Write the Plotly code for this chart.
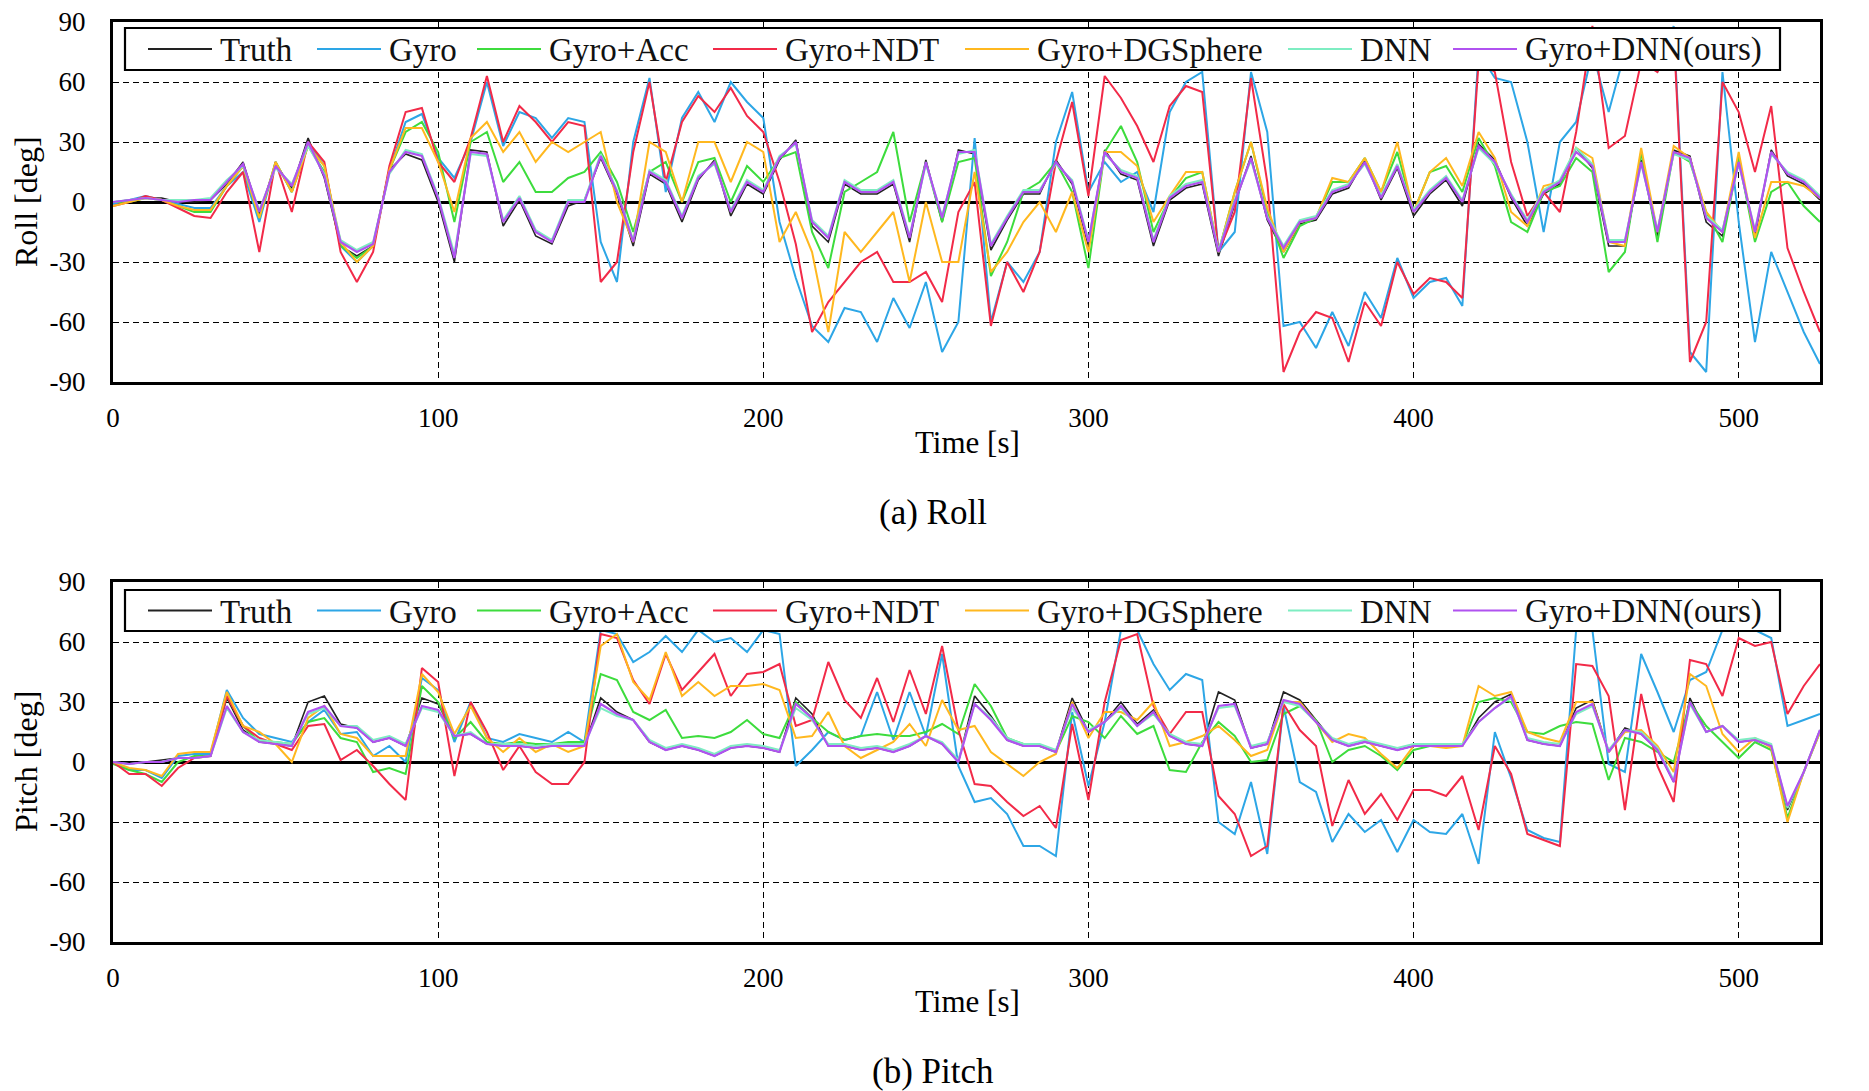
import plotly.graph_objects as go

# ---------------- data ----------------
TIME = list(range(0, 530, 5))  # seconds, 0..525

NAMES = ["Truth", "Gyro", "Gyro+Acc", "Gyro+NDT", "Gyro+DGSphere", "DNN", "Gyro+DNN(ours)"]

ROLL_TRUTH = [0,1,2,2,0,0,1,9,20,-6, 19,7,32,12,-22,-27,-22,16,24,21, 0,-30,26,25,-12,1,-17,-21,-2,1,
              22,4,-22,14,9,-10,11,21,-7,9, 4,21,31,-12,-20,9,4,4,9,-20, 21,-10,26,24,-24,-9,4,4,21,9,
              -22,26,14,11,-22,1,7,9,-27,-1, 23,-9,-25,-11,-9,4,7,21,1,17, -7,4,11,-2,29,21,2,-12,4,9,
              27,17,-22,-22,21,-17,26,23,-10,-17, 21,-17,26,13,9,1]
ROLL_GYRO = [-1,1,3,1,-1,-3,-3,8,15,-10, 20,5,30,18,-22,-30,-22,16,40,44, 22,12,30,60,28,45,42,32,42,40,
             -20,-40,30,62,5,42,55,40,60,50, 42,-10,-38,-62,-70,-53,-55,-70,-48,-63, -40,-75,-60,32,-60,-30,-40,-25,30,55,
             5,20,10,15,-5,45,60,65,-25,-15, 65,35,-62,-60,-73,-55,-72,-45,-58,-28, -48,-40,-38,-52,75,62,60,30,-15,30,
             40,75,45,75,85,65,88,-75,-85,65, -10,-70,-25,-45,-65,-81]
ROLL_ACC = [0,0,2,1,-2,-5,-5,8,18,-8, 20,5,28,15,-22,-28,-22,16,35,40, 25,-10,30,35,10,20,5,5,12,15,
            25,10,-15,15,20,0,20,22,0,18, 10,22,25,-15,-33,5,10,15,35,-10, 20,-10,20,22,-37,-20,5,10,20,5,
            -33,25,38,20,-15,2,12,15,-25,5, 30,-5,-28,-12,-8,10,10,22,5,25, -5,15,18,5,32,18,-10,-15,5,8,
            22,15,-35,-25,25,-20,25,20,-5,-20, 22,-20,5,10,-2,-10]
ROLL_NDT = [-2,0,3,1,-3,-7,-8,5,15,-25, 20,-5,30,20,-25,-40,-25,18,45,47, 20,10,32,63,30,48,40,30,40,38,
            -40,-30,25,60,10,40,53,45,57,43, 35,10,-21,-65,-50,-40,-30,-25,-40,-40, -35,-50,-5,10,-62,-30,-45,-25,20,50,
            3,63,52,38,20,48,58,55,-25,-5, 62,10,-85,-65,-55,-58,-80,-50,-62,-30, -46,-38,-40,-48,70,65,20,-7,5,-5,
            35,88,27,33,70,65,85,-80,-60,60, 45,15,48,-23,-45,-65]
ROLL_DGS = [-2,0,2,1,-2,-4,-4,8,18,-8, 20,5,28,18,-20,-30,-22,16,37,37, 20,-5,32,40,25,35,20,30,25,30,
            35,0,-20,30,25,0,30,30,10,30, 25,-20,-5,-25,-65,-15,-25,-15,-5,-40, 0,-30,-30,15,-35,-25,-10,0,-15,5,
            -25,25,25,18,-10,3,15,15,-25,5, 30,-3,-25,-10,-8,12,10,22,5,30, -5,15,22,8,35,22,-5,-12,8,10,
            27,22,-20,-22,27,-15,28,22,-5,-15, 25,-18,10,10,8,2]
ROLL_DNN = [0,1,2,1,1,1,2,11,18,-4, 17,9,28,14,-19,-24,-20,14,26,24, 3,-26,24,23,-9,3,-14,-19,1,1,
            24,6,-19,16,11,-7,13,19,-4,11, 6,23,29,-9,-17,11,6,6,11,-17, 19,-7,24,26,-21,-7,6,6,19,11,
            -19,24,16,13,-19,3,9,11,-24,1, 21,-7,-22,-9,-7,6,9,19,3,19, -4,6,13,1,27,19,4,-9,6,11,
            27,19,-19,-19,19,-14,24,21,-7,-14, 19,-14,24,15,11,3]
ROLL_OURS = [0,1,2,1,0,1,1,10,19,-5, 18,8,30,13,-20,-25,-21,15,25,23, 2,-28,25,24,-10,2,-15,-20,0,0,
             23,5,-20,15,10,-8,12,20,-5,10, 5,22,30,-10,-18,10,5,5,10,-18, 20,-8,25,25,-22,-8,5,5,20,10,
             -20,25,15,12,-20,2,8,10,-25,0, 22,-8,-23,-10,-8,5,8,20,2,18, -5,5,12,0,28,20,3,-10,5,10,
             25,18,-20,-20,20,-15,25,22,-8,-15, 20,-15,25,14,10,2]

PITCH_TRUTH = [0,-1,0,1,2,2,3,32,16,10, 9,8,30,33,19,17,10,12,8,32, 29,13,14,9,8,8,7,8,8,8,
               32,25,21,10,6,8,6,3,7,8, 7,5,32,24,8,8,6,7,5,8, 13,9,0,33,23,11,8,8,5,32,
               15,20,30,19,26,13,9,8,35,31, 7,9,35,31,21,11,8,10,8,6, 8,8,8,8,22,30,34,11,9,8,
               27,31,5,17,14,6,-10,32,15,18, 10,11,8,-24,-5,16]
PITCH_GYRO = [0,-4,-4,-8,3,4,4,36,22,14, 12,10,20,26,14,15,3,8,0,42, 36,10,30,12,10,14,12,10,15,10,
              66,64,50,55,63,55,66,60,62,55, 66,64,-2,6,15,11,13,35,11,35, 13,54,-2,-20,-18,-26,-42,-42,-47,25,
              -12,20,66,66,49,36,44,41,-30,-36, -10,-46,28,-10,-15,-40,-26,-35,-29,-45, -29,-35,-36,-26,-51,15,-8,-34,-38,-40,
              66,66,-1,-5,54,35,15,41,45,66, 66,66,62,18,21,24]
PITCH_ACC = [-1,-4,-6,-10,0,3,3,33,18,10, 10,9,20,22,12,10,-5,-3,-6,38, 30,12,20,10,9,10,9,9,10,10,
             44,41,25,21,26,12,13,12,15,21, 14,12,30,22,15,11,13,14,13,13, 15,19,14,39,28,12,9,8,5,23,
             20,12,23,14,18,-4,-5,10,20,13, 0,1,24,28,21,0,6,8,3,-4, 6,8,9,8,30,32,30,15,14,18,
             20,19,-9,12,10,5,0,30,18,10, 2,10,6,-28,-5,15]
PITCH_NDT = [0,-6,-6,-12,-3,2,3,33,18,12, 9,6,18,19,1,6,-2,-11,-19,47, 40,-7,30,15,-4,8,-5,-11,-11,0,
             64,62,41,29,54,36,45,54,33,44, 45,49,18,21,50,31,22,42,20,46, 24,58,16,-11,-12,-20,-27,-22,-33,19,
             -19,30,61,64,28,14,25,25,-17,-26, -47,-42,29,16,8,-32,-9,-26,-16,-29, -14,-14,-17,-7,-34,8,-6,-36,-39,-42,
             49,48,33,-24,34,-2,-20,51,49,33, 62,58,60,24,38,49]
PITCH_DGS = [0,-3,-4,-7,4,5,5,35,18,15, 9,0,22,28,14,12,3,3,3,44, 35,14,28,12,5,12,5,9,5,8,
             58,64,40,31,55,33,40,33,38,38, 39,36,12,13,25,8,2,6,10,19, 8,31,16,18,5,-1,-7,0,4,30,
             12,25,25,21,30,8,10,13,18,11, 3,6,30,30,20,10,14,12,4,-3, 8,8,7,8,38,33,35,15,12,10,
             30,30,5,15,16,8,-5,44,38,14, 5,12,7,-30,-5,15]
PITCH_DNN = [0,-1,0,0,2,2,3,27,15,11, 10,9,24,27,18,18,11,13,9,27, 25,13,15,9,9,9,8,9,9,9,
             27,23,21,11,7,9,7,4,8,9, 8,6,27,21,9,9,7,8,6,9, 13,10,1,29,22,12,9,9,6,27,
             16,20,27,18,24,14,10,9,27,28, 8,10,30,28,20,12,9,11,9,7, 9,9,9,9,20,27,32,12,10,9,
             24,28,6,16,15,7,-9,29,15,18, 11,12,9,-23,-5,16]
PITCH_OURS = [0,-1,0,0,2,2,3,28,15,10, 9,8,25,28,18,17,10,12,8,28, 26,13,14,9,8,8,7,8,8,8,
              29,24,21,10,6,8,6,3,7,8, 7,5,29,22,8,8,6,7,5,8, 13,9,0,29,21,11,8,8,5,29,
              15,20,28,18,25,13,9,8,28,29, 7,9,31,29,20,11,8,10,8,6, 8,8,8,8,20,27,33,11,9,8,
              25,29,5,16,14,6,-10,30,15,18, 10,11,8,-22,-5,16]

X_TICKS = [0, 100, 200, 300, 400, 500]
Y_TICKS = [-90, -60, -30, 0, 30, 60, 90]
Y_TICK_TEXT = ["-90", "-60", "-30", "0", "30", "60", "90"]

ROLL = [ROLL_TRUTH, ROLL_GYRO, ROLL_ACC, ROLL_NDT, ROLL_DGS, ROLL_DNN, ROLL_OURS]
PITCH = [PITCH_TRUTH, PITCH_GYRO, PITCH_ACC, PITCH_NDT, PITCH_DGS, PITCH_DNN, PITCH_OURS]

# ---------------- style ----------------
COLORS = ["#222222", "#2DA6E6", "#3DDC3D", "#F22A48", "#FFB81F", "#7EEDC2", "#B052F0"]
WIDTHS = [1.6, 2, 2, 2, 2, 2, 2.2]
FONT = "Liberation Serif"
OFF = 8                       # page body margin of the html page
W, H = 1869 - OFF, 1091 - OFF
L, R = 113 - OFF, 49
PLOT_W = W - L - R


def px_x(px):
    """page pixel -> paper x"""
    return (px - OFF - L) / PLOT_W


def px_y(py):
    """page pixel -> paper y"""
    return 1 - (py - OFF) / H


fig = go.Figure()

for series, ax in ((ROLL, ("x", "y")), (PITCH, ("x2", "y2"))):
    for name, vals, col, lw in zip(NAMES, series, COLORS, WIDTHS):
        fig.add_trace(go.Scatter(x=TIME, y=vals, name=name, mode="lines",
                                 line=dict(color=col, width=lw),
                                 xaxis=ax[0], yaxis=ax[1], showlegend=False))

xcommon = dict(range=[0, 525], tickvals=X_TICKS, showgrid=True, gridcolor="black",
               griddash="6px,4px", gridwidth=1.3, zeroline=False, showline=True, mirror=True,
               linecolor="black", linewidth=3, ticks="", ticklabelstandoff=10, automargin=False,
               ticklabeloverflow="allow",
               tickfont=dict(family=FONT, size=27, color="black"))
ycommon = dict(range=[-90, 90], tickvals=Y_TICKS, ticktext=Y_TICK_TEXT, showgrid=True,
               gridcolor="black", griddash="6px,4px", gridwidth=1.3, zeroline=True,
               zerolinecolor="black", zerolinewidth=3, showline=True, mirror=True,
               linecolor="black", linewidth=3, ticks="", ticklabelstandoff=19, automargin=False,
               ticklabeloverflow="allow",
               tickfont=dict(family=FONT, size=27, color="black"))

ROLL_DOM = [px_y(382), px_y(22)]
PITCH_DOM = [px_y(942), px_y(582)]

fig.update_layout(
    width=W, height=H, margin=dict(l=L, r=R, t=0, b=0, autoexpand=False),
    paper_bgcolor="white", plot_bgcolor="white",
    font=dict(family=FONT, color="black"),
    xaxis=dict(domain=[0, 1], anchor="y", **xcommon),
    yaxis=dict(domain=ROLL_DOM, anchor="x", **ycommon),
    xaxis2=dict(domain=[0, 1], anchor="y2", **xcommon),
    yaxis2=dict(domain=PITCH_DOM, anchor="x2", **ycommon),
    showlegend=False,
)

# ---------------- legends (drawn as boxes with sample lines) ----------------
LEG_LINE_START = [148, 317, 477, 713, 965, 1288, 1453]
LEG_LINE_LEN = 64
LEG_TEXT_OFF = 70
shapes = []
annos = []
for box_top, box_bot in ((28, 70), (590, 631)):
    yc = (box_top + box_bot) / 2
    shapes.append(dict(type="rect", xref="paper", yref="paper", layer="above",
                       x0=px_x(125), x1=px_x(1780), y0=px_y(box_bot), y1=px_y(box_top),
                       fillcolor="white", line=dict(color="black", width=2.2)))
    for name, col, xs in zip(NAMES, COLORS, LEG_LINE_START):
        shapes.append(dict(type="line", xref="paper", yref="paper", layer="above",
                           x0=px_x(xs), x1=px_x(xs + LEG_LINE_LEN), y0=px_y(yc), y1=px_y(yc),
                           line=dict(color=col, width=2)))
        annos.append(dict(text=name, xref="paper", yref="paper", x=px_x(xs + LEG_TEXT_OFF),
                          y=px_y(yc + 1), xanchor="left", yanchor="middle", showarrow=False,
                          font=dict(family=FONT, size=33, color="#111111")))

# axis titles and captions
for title, yc in (("Roll [deg]", 202), ("Pitch [deg]", 762)):
    annos.append(dict(text=title, xref="paper", yref="paper", x=px_x(26), y=px_y(yc),
                      textangle=-90, xanchor="center", yanchor="middle", showarrow=False,
                      font=dict(family=FONT, size=32, color="black")))
for yc in (443, 1001):
    annos.append(dict(text="Time [s]", xref="paper", yref="paper", x=px_x(967), y=px_y(yc),
                      xanchor="center", yanchor="middle", showarrow=False,
                      font=dict(family=FONT, size=31, color="black")))
for cap, yc in (("(a) Roll", 512), ("(b) Pitch", 1071)):
    annos.append(dict(text=cap, xref="paper", yref="paper", x=px_x(933), y=px_y(yc),
                      xanchor="center", yanchor="middle", showarrow=False,
                      font=dict(family=FONT, size=35, color="black")))

fig.update_layout(shapes=shapes, annotations=annos)
fig.write_html("out.html")
